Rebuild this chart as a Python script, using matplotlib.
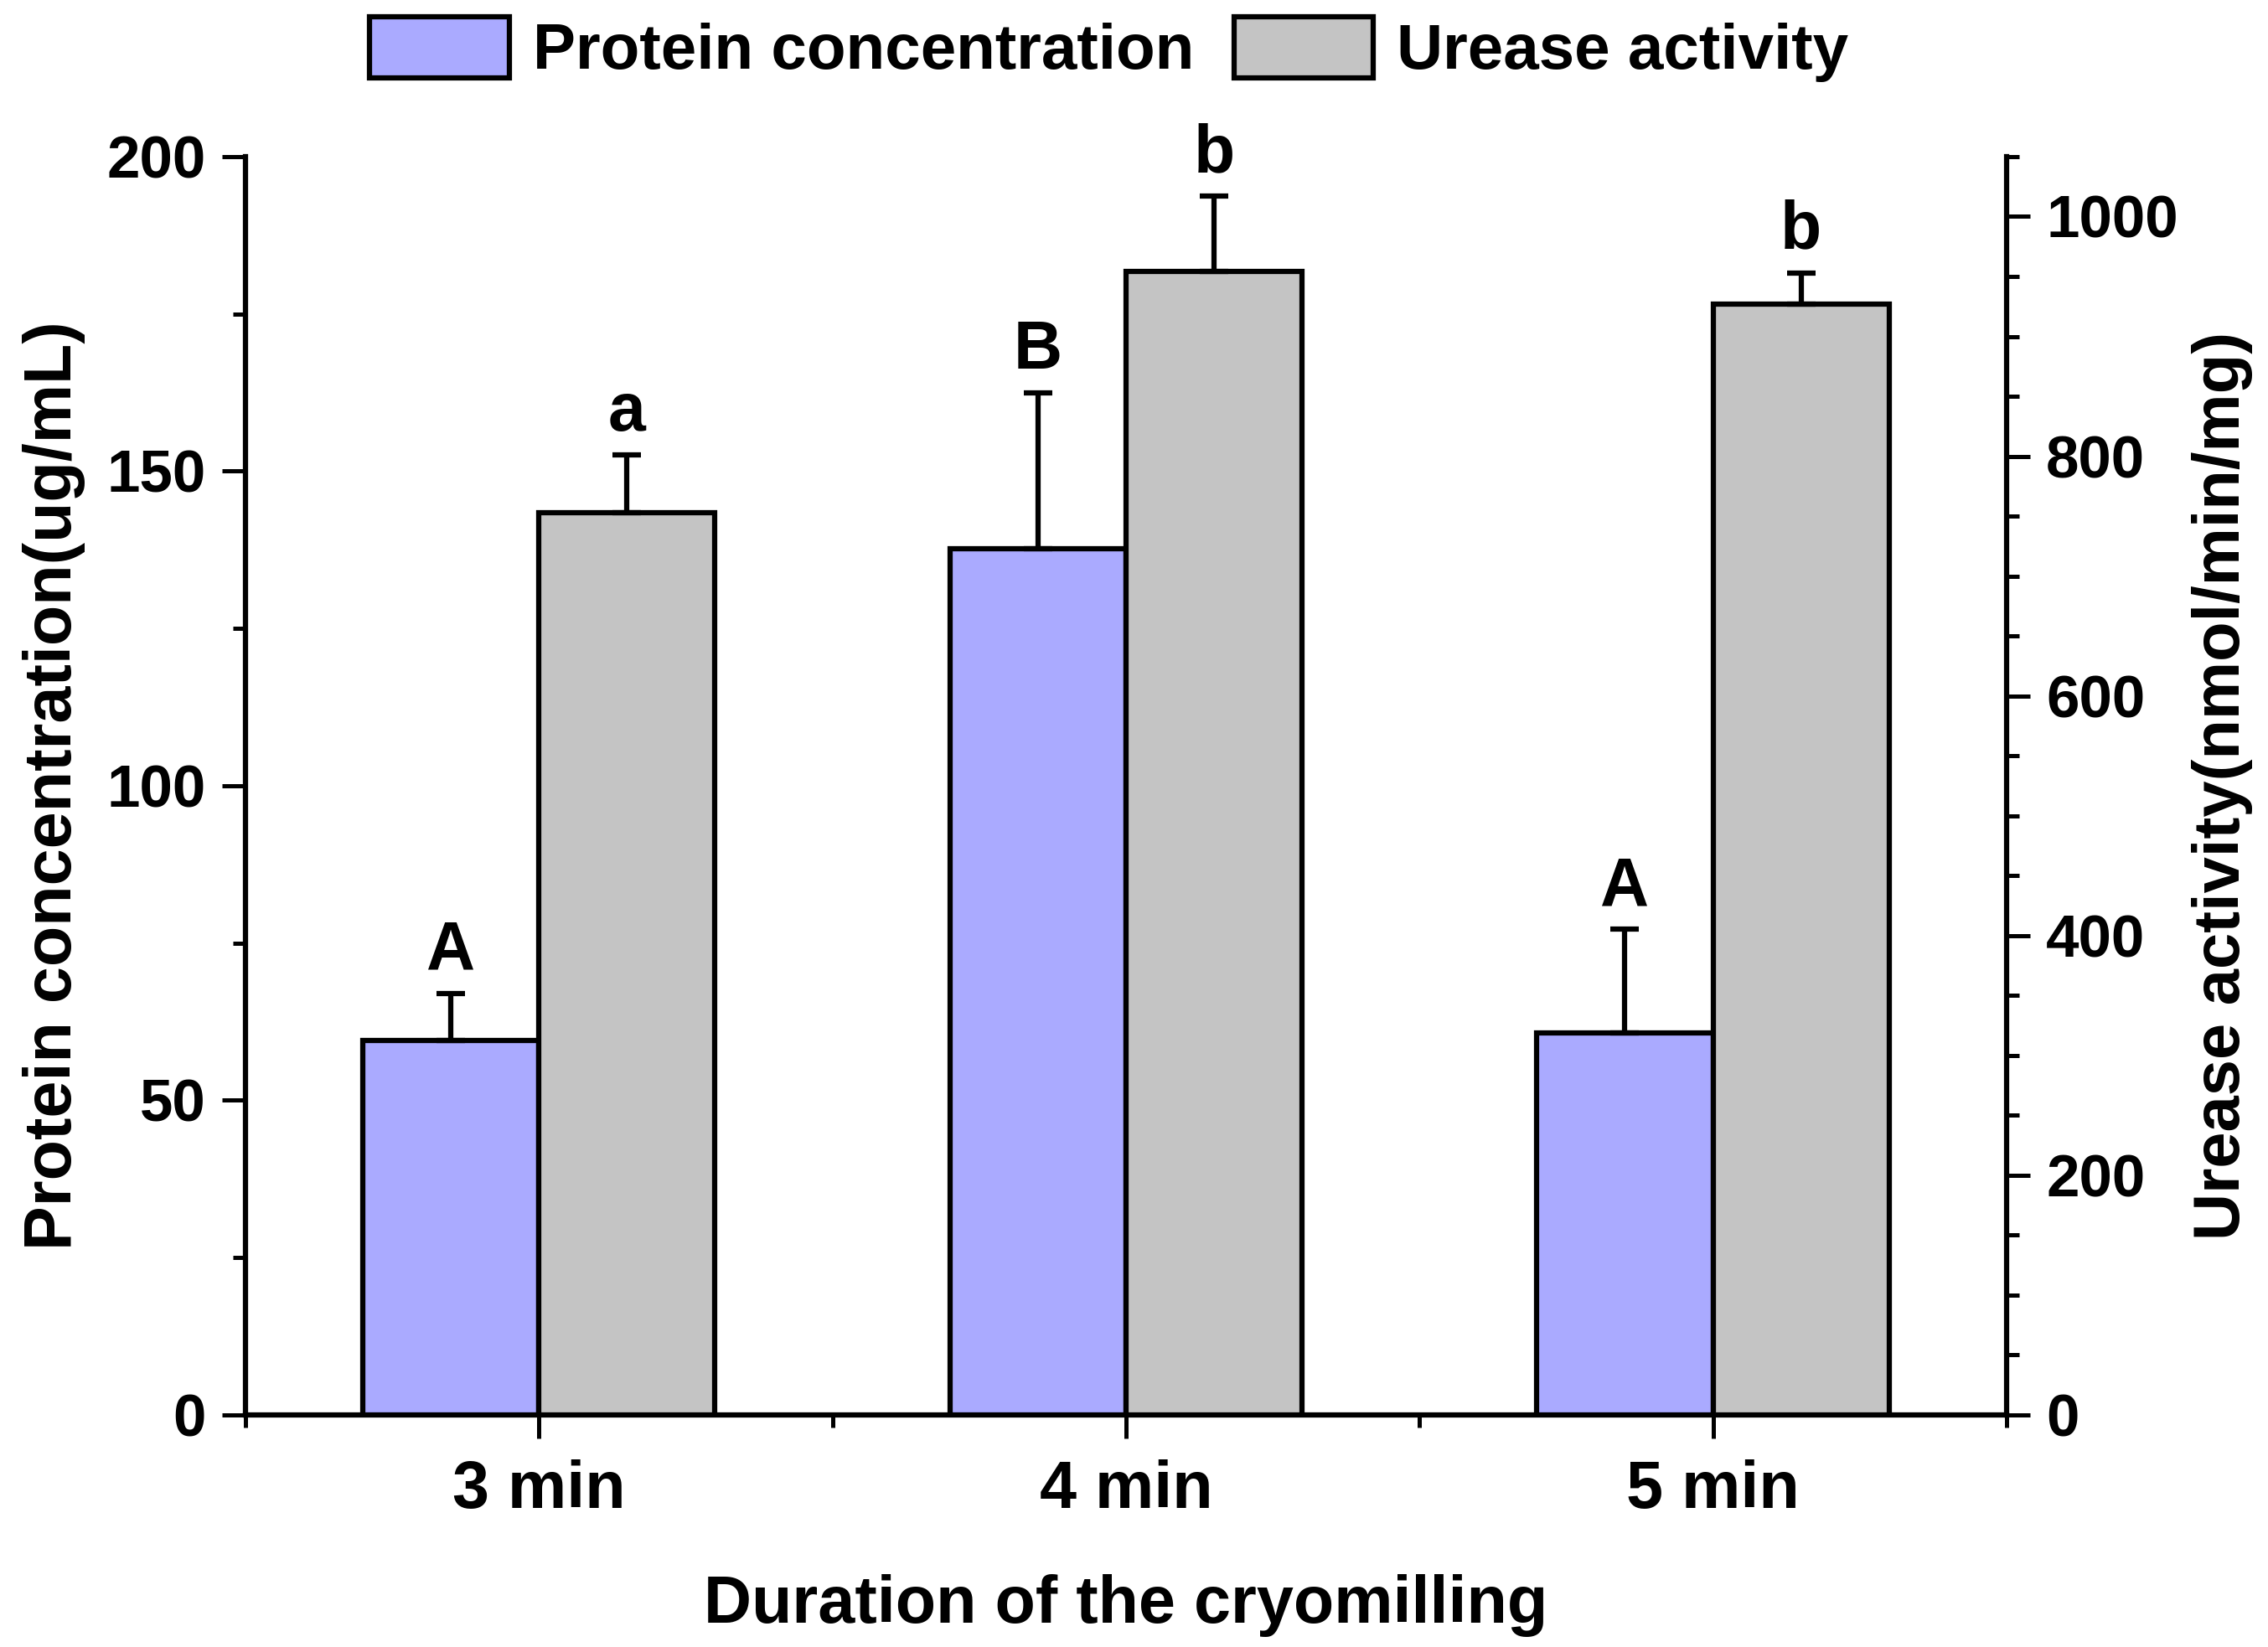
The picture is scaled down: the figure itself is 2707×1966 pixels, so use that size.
import matplotlib
matplotlib.use("Agg")
import matplotlib.pyplot as plt
from matplotlib.ticker import MultipleLocator, FixedLocator
from matplotlib.patches import Patch

# ---- data ----
durations = ["3 min", "4 min", "5 min"]
protein = [59.5, 137.7, 60.7]
protein_err = [7.5, 24.7, 16.5]
urease = [753, 954, 927]
urease_err = [48, 63, 26]
protein_letters = ["A", "B", "A"]
urease_letters = ["a", "b", "b"]

BLUE = "#AAAAFF"
GRAY = "#C4C4C4"
LW = 4.5

plt.rcParams["font.family"] = ["Liberation Sans", "DejaVu Sans"]
plt.rcParams["font.weight"] = "bold"
plt.rcParams["axes.labelweight"] = "bold"

fig = plt.figure(figsize=(27.07, 19.66), dpi=100)
ax = fig.add_axes([0.1082, 0.1409, 0.7765, 0.764])
ax2 = ax.twinx()

x = [1, 2, 3]
w = 0.3
xp = [v - w / 2 for v in x]
xu = [v + w / 2 for v in x]

err_kw = dict(elinewidth=LW, capsize=12, capthick=LW, ecolor="black")
ax.bar(xp, protein, width=w, color=BLUE, edgecolor="black", linewidth=LW,
       yerr=[[0] * 3, protein_err], error_kw=err_kw, zorder=3)
ax2.bar(xu, urease, width=w, color=GRAY, edgecolor="black", linewidth=LW,
        yerr=[[0] * 3, urease_err], error_kw=err_kw, zorder=3)

# 显著性字母
for xi, v, e, t in zip(xp, protein, protein_err, protein_letters):
    ax.annotate(t, xy=(xi, v + e), xytext=(0, 21), textcoords="offset points",
                ha="center", va="baseline", fontsize=58, fontweight="bold")
for xi, v, e, t in zip(xu, urease, urease_err, urease_letters):
    ax2.annotate(t, xy=(xi, v + e), xytext=(0, 21), textcoords="offset points",
                 ha="center", va="baseline", fontsize=58, fontweight="bold")

ax.set_xlim(0.5, 3.5)
ax.set_ylim(0, 200)
ax2.set_ylim(0, 1050)

ax.set_xticks(x)
ax.set_xticklabels(durations)
ax.xaxis.set_minor_locator(FixedLocator([0.5, 1.5, 2.5, 3.5]))
ax.yaxis.set_major_locator(MultipleLocator(50))
ax.yaxis.set_minor_locator(MultipleLocator(25))
ax2.yaxis.set_major_locator(MultipleLocator(200))
ax2.yaxis.set_minor_locator(MultipleLocator(50))

for a in (ax, ax2):
    a.spines["top"].set_visible(False)
    for s in ("left", "right", "bottom"):
        a.spines[s].set_linewidth(LW)
    a.tick_params(which="major", length=20, width=LW * 0.8, direction="out")
    a.tick_params(which="minor", length=11, width=LW * 0.8, direction="out")

ax.tick_params(axis="y", labelsize=51, pad=14)
ax.tick_params(axis="x", which="major", labelsize=57, pad=18)
ax2.tick_params(axis="y", labelsize=51, pad=14)
ax2.spines["left"].set_visible(False)
ax2.spines["bottom"].set_visible(False)
ax.spines["right"].set_visible(False)

for lab in ax.get_xticklabels() + ax.get_yticklabels() + ax2.get_yticklabels():
    lab.set_fontweight("bold")

ax.set_xlabel("Duration of the cryomilling", fontsize=57, labelpad=45)
ax.set_ylabel("Protein concentration(ug/mL)", fontsize=57, labelpad=18)
ax2.set_ylabel("Urease activity(nmol/min/mg)", fontsize=56, labelpad=12)

handles = [Patch(facecolor=BLUE, edgecolor="black", linewidth=LW, label="Protein concentration"),
           Patch(facecolor=GRAY, edgecolor="black", linewidth=LW, label="Urease activity")]
fig.legend(handles=handles, loc="center", bbox_to_anchor=(0.489, 0.970), ncol=2,
           frameon=False, fontsize=55, handlelength=2.18, handleheight=1.09,
           handletextpad=0.37, columnspacing=0.62, borderpad=0.1,
           prop=dict(weight="bold", size=55))

fig.savefig("out.png", dpi=100)
